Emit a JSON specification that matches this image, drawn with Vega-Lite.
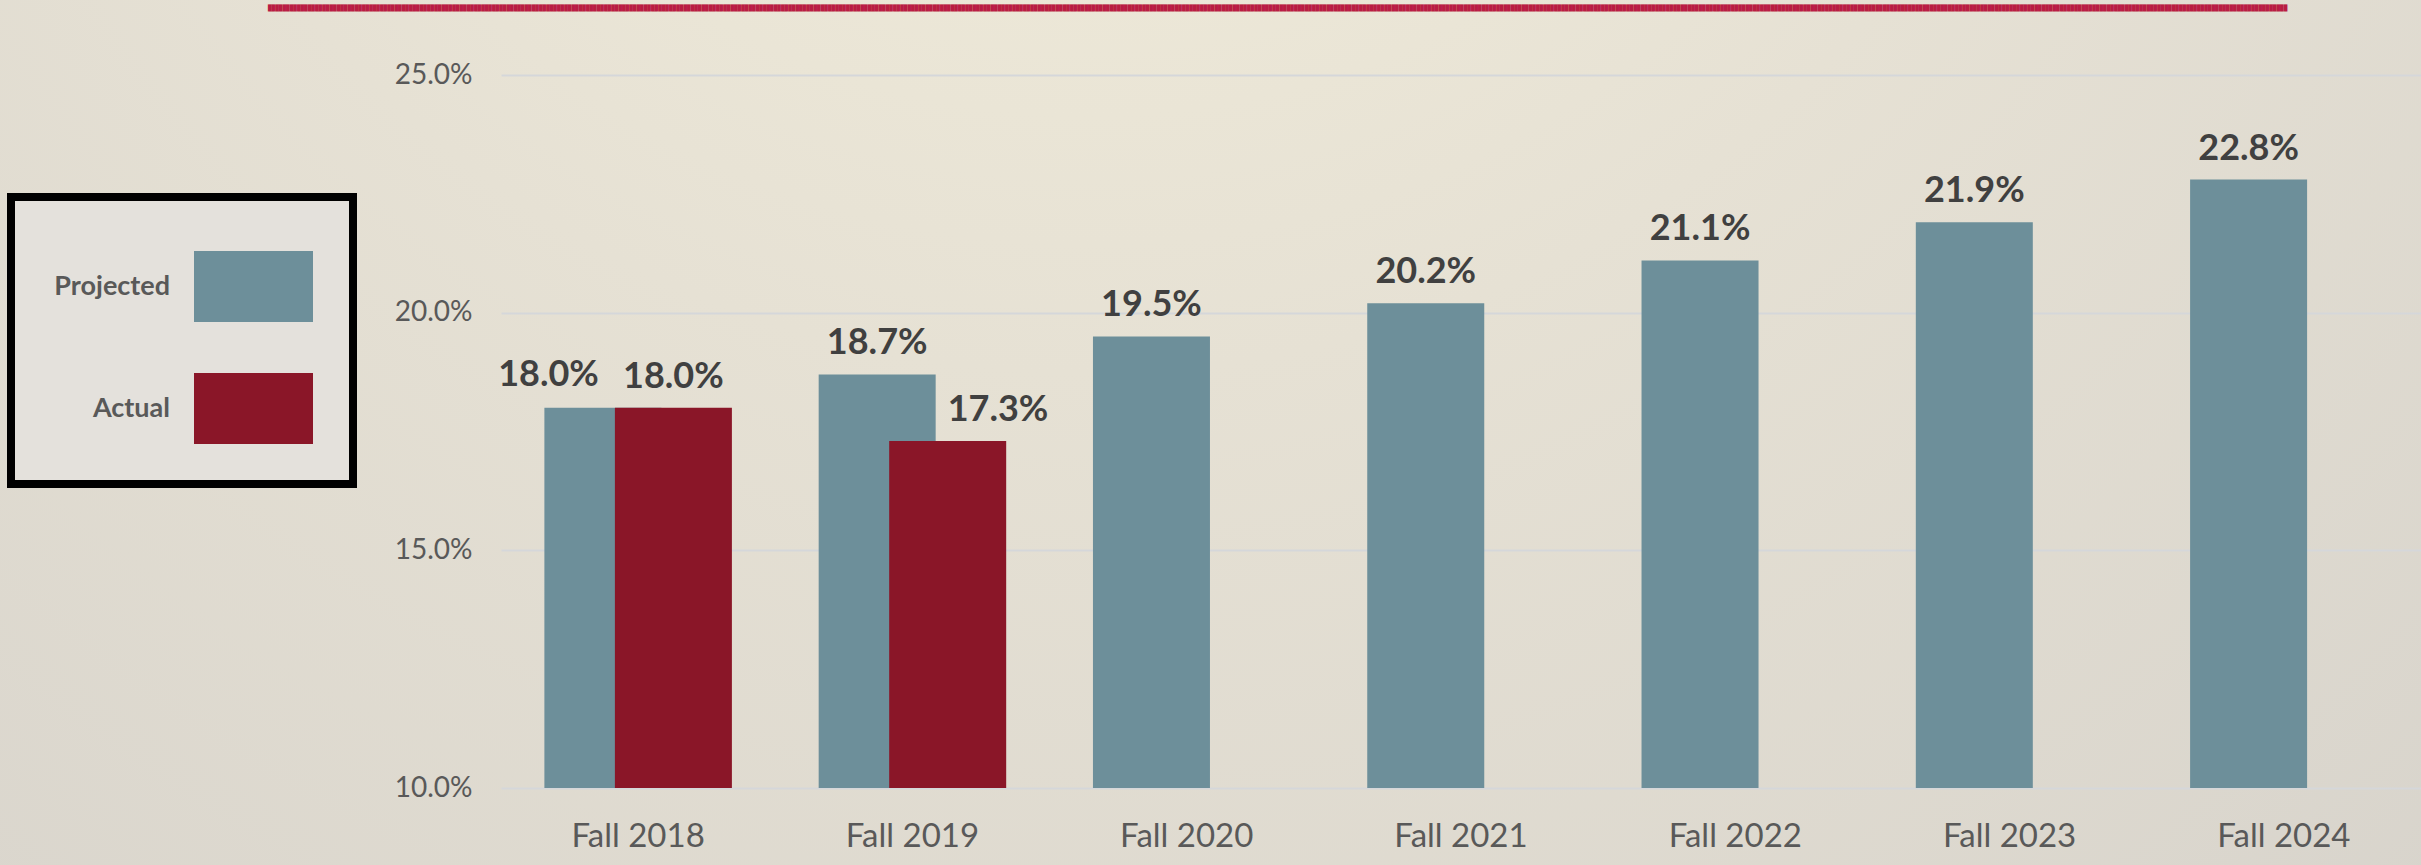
{
  "$schema": "https://vega.github.io/schema/vega-lite/v6.json",
  "autosize": {"type": "none"},
  "padding": 0,
  "width": 2421,
  "height": 865,
  "background": "#dcd8cf",
  "title": {
    "text": "███████████████████████████████████████████████████████████████████████████████████████████████████████████████████████████████████████████████████████████████████████████████████████████████████████████████████████████████████████████████████████████████████████████████████████████████████████████████████████████████████████████████████████████████████████████████████████████████████████████████████████████████████████████████████████████████████████████████████████████████████████████████████████████████████████████████████████████████████████████████",
    "anchor": "start",
    "frame": "group",
    "dx": 268,
    "offset": -11,
    "font": "DejaVu Sans Mono",
    "fontSize": 6,
    "fontWeight": "normal",
    "color": "#b91d43"
  },
  "data": {
    "values": [
      {"term": "Fall 2018", "series": "Projected", "value": 0.180},
      {"term": "Fall 2018", "series": "Actual", "value": 0.180},
      {"term": "Fall 2019", "series": "Projected", "value": 0.187},
      {"term": "Fall 2019", "series": "Actual", "value": 0.173},
      {"term": "Fall 2020", "series": "Projected", "value": 0.195},
      {"term": "Fall 2021", "series": "Projected", "value": 0.202},
      {"term": "Fall 2022", "series": "Projected", "value": 0.211},
      {"term": "Fall 2023", "series": "Projected", "value": 0.219},
      {"term": "Fall 2024", "series": "Projected", "value": 0.228}
    ]
  },
  "encoding": {
    "x": {
      "field": "term", "type": "nominal", "sort": null,
      "scale": {"range": [501, 2421], "paddingInner": 0, "paddingOuter": 0},
      "axis": {
        "title": null, "labelAngle": 0, "ticks": false, "domain": false,
        "offset": -77,
        "labelFont": "Lato", "labelFontSize": 33, "labelColor": "#595959",
        "labelPadding": 32
      }
    },
    "xOffset": {
      "field": "series", "type": "nominal",
      "scale": {"domain": ["Projected", "Actual"], "paddingInner": 0, "paddingOuter": 0.945}
    },
    "y": {
      "field": "value", "type": "quantitative",
      "scale": {"domain": [0.1, 0.25], "range": [788, 75], "zero": false, "nice": false},
      "axis": {
        "title": null, "values": [0.1, 0.15, 0.2, 0.25], "format": ".1%",
        "ticks": false, "domain": false, "grid": true,
        "offset": -501,
        "gridColor": "#d5d7da", "gridWidth": 2,
        "labelFont": "Lato", "labelFontSize": 28, "labelColor": "#595959",
        "labelPadding": 29
      }
    }
  },
  "layer": [
    {
      "mark": {"type": "bar", "width": 117},
      "encoding": {
        "y2": {"datum": 0.1},
        "color": {
          "field": "series", "type": "nominal",
          "scale": {"domain": ["Projected", "Actual"], "range": ["#6d8f9a", "#8a1628"]},
          "legend": {
            "title": null,
            "orient": "none",
            "legendX": 11,
            "legendY": 197,
            "direction": "vertical",
            "symbolType": "M-1.202,-0.717H1.202V0.717H-1.202Z",
            "symbolSize": 9801,
            "symbolStrokeWidth": 0,
            "symbolOffset": 153,
            "labelAlign": "right",
            "labelOffset": -133,
            "labelFont": "Lato",
            "labelFontWeight": "bold",
            "labelFontSize": 27,
            "labelColor": "#595959",
            "fillColor": "#e4e1dc",
            "strokeColor": "#000000",
            "padding": 40,
            "rowPadding": 37,
            "encode": {"legend": {"update": {"strokeWidth": {"value": 8}}}}
          }
        }
      }
    },
    {
      "transform": [{"filter": "!((datum.term === 'Fall 2018' && datum.series === 'Projected') || (datum.term === 'Fall 2019' && datum.series === 'Actual'))"}],
      "mark": {"type": "text", "dy": -20, "baseline": "alphabetic", "font": "Lato", "fontWeight": "bold", "fontSize": 36, "color": "#404040"},
      "encoding": {"text": {"field": "value", "type": "quantitative", "format": ".1%"}}
    },
    {
      "transform": [{"filter": "datum.term === 'Fall 2018' && datum.series === 'Projected'"}],
      "mark": {"type": "text", "dy": -22, "dx": -4, "align": "right", "baseline": "alphabetic", "font": "Lato", "fontWeight": "bold", "fontSize": 36, "color": "#404040"},
      "encoding": {"text": {"field": "value", "type": "quantitative", "format": ".1%"}}
    },
    {
      "transform": [{"filter": "datum.term === 'Fall 2019' && datum.series === 'Actual'"}],
      "mark": {"type": "text", "dy": -20, "dx": 0, "align": "left", "baseline": "alphabetic", "font": "Lato", "fontWeight": "bold", "fontSize": 36, "color": "#404040"},
      "encoding": {"text": {"field": "value", "type": "quantitative", "format": ".1%"}}
    }
  ],
  "config": {
    "view": {
      "stroke": null,
      "fill": {
        "gradient": "radial",
        "x1": 0.45, "y1": 0.05, "r1": 0,
        "x2": 0.45, "y2": 0.05, "r2": 0.85,
        "stops": [
          {"offset": 0, "color": "#f6f1dc"},
          {"offset": 0.5, "color": "#e6e1d4"},
          {"offset": 1, "color": "#d8d4cc"}
        ]
      }
    }
  }
}
